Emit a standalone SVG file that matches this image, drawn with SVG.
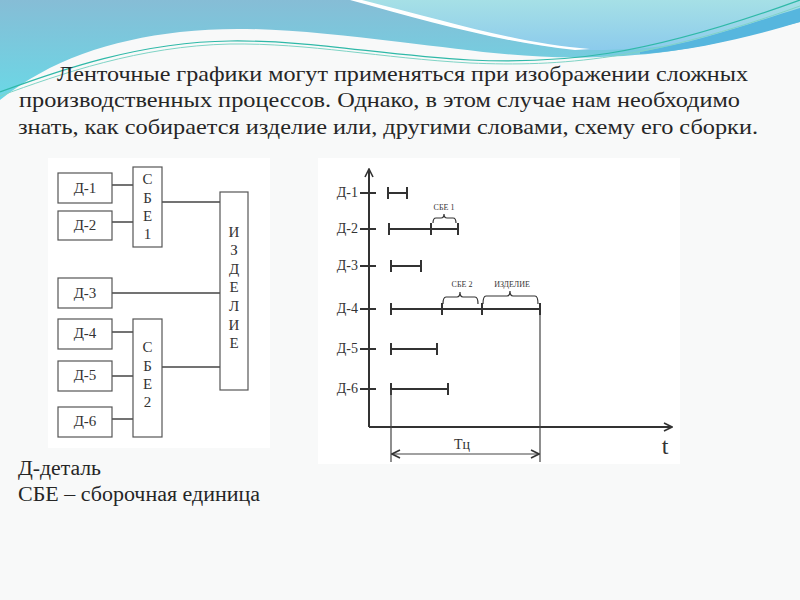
<svg xmlns="http://www.w3.org/2000/svg" width="800" height="600" viewBox="0 0 800 600">
<defs>
<linearGradient id="gBlue" x1="0" y1="0" x2="0" y2="1">
<stop offset="0" stop-color="#86bdd6"/>
<stop offset="1" stop-color="#6ad8e6"/>
</linearGradient>
<linearGradient id="gLight" x1="0" y1="0" x2="0" y2="1">
<stop offset="0" stop-color="#a6e0e6"/>
<stop offset="1" stop-color="#8ccbec"/>
</linearGradient>
<marker id="arr" viewBox="0 0 10 10" refX="9" refY="5" markerWidth="10" markerHeight="10" markerUnits="userSpaceOnUse" orient="auto-start-reverse">
<path d="M1,1 L9,5 L1,9" fill="none" stroke="#333" stroke-width="1.6"/>
</marker>
<style>
.bg{fill:#f8f9f9}
.panel{fill:#ffffff}
.head{font-family:"Liberation Serif","Times New Roman",serif;font-size:21px;fill:#262626}
.foot{font-family:"Liberation Serif","Times New Roman",serif;font-size:20px;fill:#262626}
.box{fill:#fff;stroke:#555;stroke-width:1.2}
.lbl{font-family:"Liberation Serif","Times New Roman",serif;font-size:15px;fill:#333;text-anchor:middle}
.conn{stroke:#444;stroke-width:1.5;fill:none}
.axis{stroke:#333;stroke-width:2;fill:none}
.bar{stroke:#333;stroke-width:2;fill:none}
.thin{stroke:#444;stroke-width:1.2;fill:none}
.brace{stroke:#333;stroke-width:1.2;fill:none}
.ylbl{font-family:"Liberation Serif","Times New Roman",serif;font-size:14px;fill:#333;text-anchor:end}
.small{font-family:"Liberation Serif","Times New Roman",serif;font-size:8px;fill:#333;text-anchor:middle}
</style>
</defs>
<rect class="bg" x="0" y="0" width="800" height="600"/>
<!-- decorative top waves -->
<g id="waves">
<path d="M0,0 L800,0 L800,22 C730,40 680,55 600,57 C530,60 470,50 400,42 C320,33 250,24 180,32 C110,40 50,60 0,100 Z" fill="url(#gBlue)"/>
<path d="M355,0 L800,0 L800,10 C730,35 680,50 590,50 C520,48 450,25 355,0 Z" fill="url(#gLight)"/>
<path d="M350,0 L362,0 C450,22 520,44 590,49 L575,50 C500,42 430,22 350,0 Z" fill="#ffffff"/>
<path d="M640,52 C700,42 760,20 800,8 L800,22 C760,34 700,50 640,54 Z" fill="#56b6de"/>
<path d="M0,92 C60,70 140,42 230,41 C310,40 380,55 470,60 C560,64 640,58 800,0" fill="none" stroke="#2fb9a8" stroke-width="1.2"/>
<path d="M0,96 C60,74 140,46 230,44 C310,43 380,58 470,63 C560,67 650,60 800,6" fill="none" stroke="#7fd4c6" stroke-width="1"/>
</g>
<!-- heading text -->
<text class="head" x="57" y="81" textLength="691" lengthAdjust="spacingAndGlyphs">Ленточные графики могут применяться при изображении сложных</text>
<text class="head" x="19" y="107" textLength="721" lengthAdjust="spacingAndGlyphs">производственных процессов. Однако, в этом случае нам необходимо</text>
<text class="head" x="18" y="134" textLength="740" lengthAdjust="spacingAndGlyphs">знать, как собирается изделие или, другими словами, схему его сборки.</text>
<!-- panels -->
<rect class="panel" x="48" y="158" width="222" height="290"/>
<rect class="panel" x="318" y="158" width="362" height="306"/>
<!-- left diagram connectors -->
<g id="connectors">
<line class="conn" x1="112" y1="185" x2="133" y2="185"/>
<line class="conn" x1="112" y1="222" x2="133" y2="222"/>
<line class="conn" x1="162" y1="202" x2="220" y2="202"/>
<line class="conn" x1="112" y1="293" x2="220" y2="293"/>
<line class="conn" x1="112" y1="332" x2="133" y2="332"/>
<line class="conn" x1="112" y1="376" x2="133" y2="376"/>
<line class="conn" x1="112" y1="419" x2="133" y2="419"/>
<line class="conn" x1="162" y1="367" x2="220" y2="367"/>
</g>
<g id="d1"><rect class="box" x="58" y="173" width="54" height="30"/><text class="lbl" x="85" y="193">Д-1</text></g>
<g id="d2"><rect class="box" x="58" y="211" width="54" height="29"/><text class="lbl" x="85" y="230">Д-2</text></g>
<g id="d3"><rect class="box" x="58" y="278" width="54" height="30"/><text class="lbl" x="85" y="298">Д-3</text></g>
<g id="d4"><rect class="box" x="58" y="319" width="54" height="30"/><text class="lbl" x="85" y="338">Д-4</text></g>
<g id="d5"><rect class="box" x="58" y="361" width="54" height="30"/><text class="lbl" x="85" y="380">Д-5</text></g>
<g id="d6"><rect class="box" x="58" y="407" width="54" height="30"/><text class="lbl" x="85" y="426">Д-6</text></g>
<g id="sbe1"><rect class="box" x="133" y="167" width="29" height="80"/>
<text class="lbl" x="147.5" y="184">С</text><text class="lbl" x="147.5" y="203">Б</text><text class="lbl" x="147.5" y="221">Е</text><text class="lbl" x="147.5" y="239">1</text></g>
<g id="sbe2"><rect class="box" x="133" y="319" width="29" height="118"/>
<text class="lbl" x="147.5" y="352">С</text><text class="lbl" x="147.5" y="371">Б</text><text class="lbl" x="147.5" y="389">Е</text><text class="lbl" x="147.5" y="407">2</text></g>
<g id="izdelie"><rect class="box" x="220" y="192" width="28" height="198"/>
<text class="lbl" x="234" y="237">И</text><text class="lbl" x="234" y="255">З</text><text class="lbl" x="234" y="274">Д</text><text class="lbl" x="234" y="292">Е</text><text class="lbl" x="234" y="311">Л</text><text class="lbl" x="234" y="330">И</text><text class="lbl" x="234" y="348">Е</text></g>
<!-- chart -->
<g id="chart">
<path class="axis" d="M369,427 L369,169" marker-end="url(#arr)"/>
<path class="axis" d="M369,427 L672,427" marker-end="url(#arr)"/>
<text x="665" y="454" font-family="Liberation Serif, serif" font-size="24" fill="#333" text-anchor="middle">t</text>
<g class="bar">
<line x1="360" y1="193" x2="376" y2="193"/>
<line x1="360" y1="229" x2="376" y2="229"/>
<line x1="360" y1="266" x2="376" y2="266"/>
<line x1="360" y1="309" x2="376" y2="309"/>
<line x1="360" y1="349" x2="376" y2="349"/>
<line x1="360" y1="389" x2="376" y2="389"/>
</g>
<text class="ylbl" x="358" y="197">Д-1</text>
<text class="ylbl" x="358" y="233">Д-2</text>
<text class="ylbl" x="358" y="270">Д-3</text>
<text class="ylbl" x="358" y="313">Д-4</text>
<text class="ylbl" x="358" y="353">Д-5</text>
<text class="ylbl" x="358" y="393">Д-6</text>
<!-- bars -->
<path class="bar" d="M388,193 L407,193 M388,187 L388,199 M407,187 L407,199"/>
<path class="bar" d="M389,229 L458,229 M389,223 L389,235 M431,223 L431,235 M458,223 L458,235"/>
<path class="bar" d="M391,266 L421,266 M391,260 L391,272 M421,260 L421,272"/>
<path class="bar" d="M391,309 L540,309 M391,303 L391,315 M442,303 L442,315 M482,303 L482,315"/>
<path class="bar" d="M391,349 L437,349 M391,343 L391,355 M437,343 L437,355"/>
<path class="bar" d="M391,389 L448,389 M391,383 L391,395 M448,383 L448,395"/>
<line class="thin" x1="391" y1="389" x2="391" y2="462"/>
<line class="thin" x1="540" y1="303" x2="540" y2="462"/>
<path class="bar" d="M540,303 L540,315"/>
<path class="thin" d="M392,454 L539,454" marker-start="url(#arr)" marker-end="url(#arr)"/>
<text x="462" y="449" font-family="Liberation Serif, serif" font-size="14" fill="#333" text-anchor="middle">Тц</text>
<!-- braces -->
<path class="brace" d="M433,223 Q433,218 436,218 L441,218 Q444,218 444,214 Q444,218 447,218 L453,218 Q456,218 456,223"/>
<text class="small" x="444" y="210">СБЕ 1</text>
<path class="brace" d="M443,304 Q443,297 446,297 L457,297 Q460,297 460,292 Q460,297 463,297 L475,297 Q478,297 478,304"/>
<text class="small" x="462" y="287">СБЕ 2</text>
<path class="brace" d="M483,304 Q483,296 486,296 L507,296 Q510,296 510,291 Q510,296 513,296 L535,296 Q538,296 538,304"/>
<text class="small" x="512" y="287">ИЗДЕЛИЕ</text>
</g>
<!-- footnotes -->
<text class="foot" x="18" y="475" textLength="83" lengthAdjust="spacingAndGlyphs">Д-деталь</text>
<text class="foot" x="18" y="501" textLength="242" lengthAdjust="spacingAndGlyphs">СБЕ – сборочная единица</text>
</svg>
